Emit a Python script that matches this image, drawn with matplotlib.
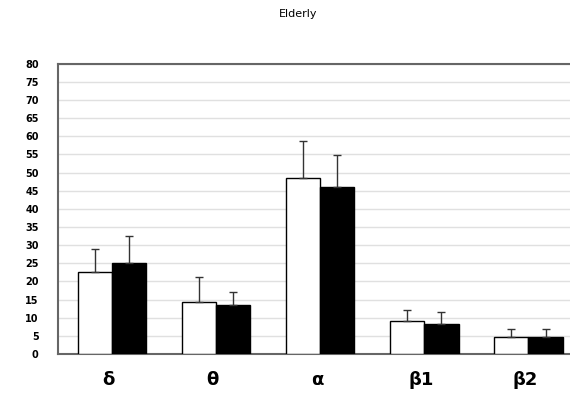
import matplotlib.pyplot as plt
import numpy as np

# EEG band power, elderly group
bands = ['δ', 'θ', 'α', 'β1', 'β2']
white_vals = [22.7, 14.4, 48.6, 9.1, 4.6]
white_err = [6.2, 6.8, 10.0, 3.0, 2.2]
black_vals = [25.2, 13.4, 46.0, 8.2, 4.6]
black_err = [7.3, 3.8, 8.9, 3.3, 2.2]
yticks = list(range(0, 85, 5))

fig = plt.figure(figsize=(5.7, 4.04), dpi=100)
ax = fig.add_axes([0.102, 0.124, 0.898, 0.718])

x = np.arange(len(bands))
w = 0.33
ax.bar(x - w / 2, white_vals, w, color='white', edgecolor='black', linewidth=1.0, zorder=3,
       yerr=[np.zeros(len(bands)), white_err], error_kw=dict(ecolor='#333333', elinewidth=1, capsize=3, capthick=1))
ax.bar(x + w / 2, black_vals, w, color='black', edgecolor='black', linewidth=1.0, zorder=3,
       yerr=[np.zeros(len(bands)), black_err], error_kw=dict(ecolor='#333333', elinewidth=1, capsize=3, capthick=1))

ax.set_xlim(-0.516, 4.4)
ax.set_ylim(0, 80)
ax.set_yticks(yticks)
ax.set_yticklabels([str(t) for t in yticks], fontsize=7, fontweight='bold')
ax.tick_params(axis='y', length=0, pad=14)
ax.yaxis.grid(True, color='#e0e0e0', linewidth=1)
ax.set_axisbelow(True)

ax.set_xticks(x - 0.03)
ax.set_xticklabels(bands, fontsize=13, fontweight='bold')
ax.tick_params(axis='x', length=0, pad=12)

ax.spines['right'].set_visible(False)
for s in ['left', 'top', 'bottom']:
    ax.spines[s].set_color('#666666')
    ax.spines[s].set_linewidth(1.5)

fig.text(0.523, 0.965, 'Elderly', ha='center', va='center', fontsize=8)

fig.savefig('out.png', dpi=100)
